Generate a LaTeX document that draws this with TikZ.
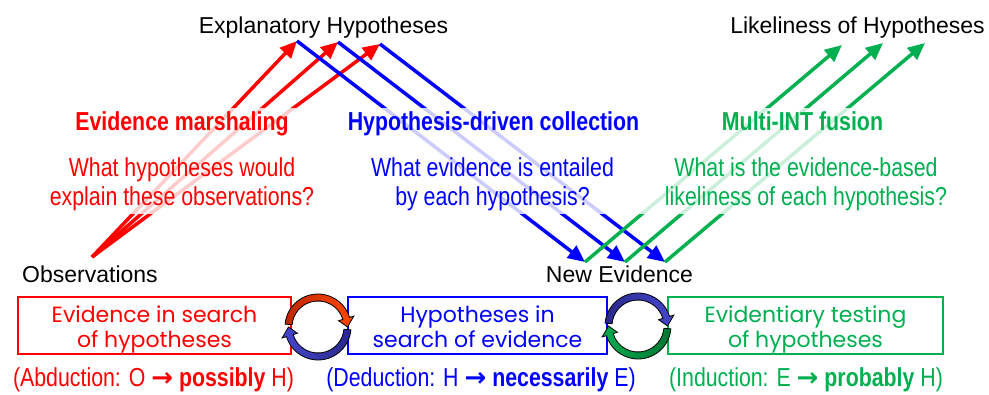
\documentclass[tikz,border=0pt]{standalone}
\usepackage{fontspec}
\setmainfont{Liberation Sans}
\newfontfamily\narrowfont[FakeStretch=0.82]{Liberation Sans}
\newfontfamily\boxfont{Poppins}
\newfontfamily\arrowfont{DejaVu Sans}
\usepackage{tikz}
\usetikzlibrary{arrows.meta}
\definecolor{evred}{RGB}{255,0,0}
\definecolor{evblue}{RGB}{0,0,255}
\definecolor{evgreen}{RGB}{0,176,80}
\definecolor{cycredA}{RGB}{190,40,0}
\definecolor{cycredB}{RGB}{255,70,0}
\definecolor{cycblueA}{RGB}{40,40,140}
\definecolor{cycblueB}{RGB}{70,70,205}
\definecolor{cycgreenA}{RGB}{0,120,50}
\definecolor{cycgreenB}{RGB}{0,170,80}
\newcommand{\modearrow}{{\arrowfont\bfseries →}}

\begin{document}
\begin{tikzpicture}[
	x=1pt, y=-1pt,
	Title/.style={font=\fontsize{23}{27}\selectfont, inner sep=0pt, anchor=base},
	Heading/.style={font=\narrowfont\bfseries\fontsize{26}{29}\selectfont, inner sep=0pt, anchor=base},
	Question/.style={font=\narrowfont\fontsize{26}{29}\selectfont, align=center, inner sep=0pt, anchor=base},
	Mode/.style={font=\narrowfont\fontsize{26}{29}\selectfont, inner sep=0pt, anchor=base},
	BoxNode/.style={draw, line width=2.5pt, minimum height=57pt, inner sep=0pt, align=center,
		text height=50pt, text depth=6pt, font=\boxfont\fontsize{22}{25}\selectfont},
	EvArrow/.style={line width=3.5pt, -{Triangle[length=17pt,width=15pt]}},
	CycArc/.style={draw=black, line width=0.8pt}
	]
	\useasboundingbox (0,0) rectangle (989,395);
	
	% end points of the arrow bundles
	\coordinate (o1) at (92,257);
	\coordinate (h1) at (297,41);
	\coordinate (h2) at (338,42);
	\coordinate (h3) at (380,44);
	\coordinate (e1) at (585,262);
	\coordinate (e2) at (625,262);
	\coordinate (e3) at (665,262);
	\coordinate (l1) at (842,45);
	\coordinate (l2) at (883,43);
	\coordinate (l3) at (925,43);
	
	\foreach \h in {h1,h2,h3}
	\draw[EvArrow, evred] (o1) -- (\h);
	\draw[EvArrow, evblue] (h1) -- (e1);
	\draw[EvArrow, evblue] (h2) -- (e2);
	\draw[EvArrow, evblue] (h3) -- (e3);
	\draw[EvArrow, evgreen] (e1) -- (l1);
	\draw[EvArrow, evgreen] (e2) -- (l2);
	\draw[EvArrow, evgreen] (e3) -- (l3);
	
	% the arrows fade behind the texts
	\fill[white, opacity=0.8] (0,108) rectangle (989,214);
	
	\node[Title] (expl) at (323.5,34) {Explanatory Hypotheses};
	\node[Title] (like) at (857.5,34) {Likeliness of Hypotheses};
	\node[Title] (obs) at (90,283) {Observations};
	\node[Title] (newev) at (619.5,283) {New Evidence};
	
	\node[Heading, evred] (marsh) at (182,131) {Evidence marshaling};
	\node[Heading, evblue] (hdc) at (493.5,131) {Hypothesis-driven collection};
	\node[Heading, evgreen] (fusion) at (802.5,131) {Multi-INT fusion};
	
	\node[Question, evred] (qred) at (182,206) {What hypotheses would\\explain these observations?};
	\node[Question, evblue] (qblue) at (492.5,206) {What evidence is entailed\\by each hypothesis?};
	\node[Question, evgreen] (qgreen) at (806,206) {What is the evidence-based\\likeliness of each hypothesis?};
	
	\node[BoxNode, evred, minimum width=273pt] (bred) at (154.5,325.5) {Evidence in search\\of hypotheses};
	\node[BoxNode, evblue, minimum width=259pt] (bblue) at (477.5,325.5) {Hypotheses in\\search of evidence};
	\node[BoxNode, evgreen, minimum width=275pt] (bgreen) at (805.5,325.5) {Evidentiary testing\\of hypotheses};
	
	\node[Mode, evred] (abd) at (153.5,387) {(Abduction: O \modearrow{} {\bfseries possibly} H)};
	\node[Mode, evblue] (ded) at (481,387) {(Deduction: H \modearrow{} {\bfseries necessarily} E)};
	\node[Mode, evgreen] (ind) at (806,387) {(Induction: E \modearrow{} {\bfseries probably} H)};
	
	% cycle between the first two boxes
	\begin{scope}[shift={(318,327)}, x=1pt, y=1pt]
		\path[CycArc, left color=cycblueB, right color=cycblueA] (-5:33) arc[start angle=-5, end angle=-163, radius=33]
		-- (-163:37.5) -- (-180:29.5) -- (-163:21.5) -- (-163:26) arc[start angle=-163, end angle=-5, radius=26] -- cycle;
		\path[CycArc, left color=cycredA, right color=cycredB] (175:33) arc[start angle=175, end angle=17, radius=33]
		-- (17:37.5) -- (0:29.5) -- (17:21.5) -- (17:26) arc[start angle=17, end angle=175, radius=26] -- cycle;
	\end{scope}
	
	% cycle between the last two boxes
	\begin{scope}[shift={(638,326)}, x=1pt, y=1pt]
		\path[CycArc, left color=cycgreenB, right color=cycgreenA] (-5:33) arc[start angle=-5, end angle=-163, radius=33]
		-- (-163:37.5) -- (-180:29.5) -- (-163:21.5) -- (-163:26) arc[start angle=-163, end angle=-5, radius=26] -- cycle;
		\path[CycArc, left color=cycblueA, right color=cycblueB] (175:33) arc[start angle=175, end angle=17, radius=33]
		-- (17:37.5) -- (0:29.5) -- (17:21.5) -- (17:26) arc[start angle=17, end angle=175, radius=26] -- cycle;
	\end{scope}
\end{tikzpicture}
\end{document}
